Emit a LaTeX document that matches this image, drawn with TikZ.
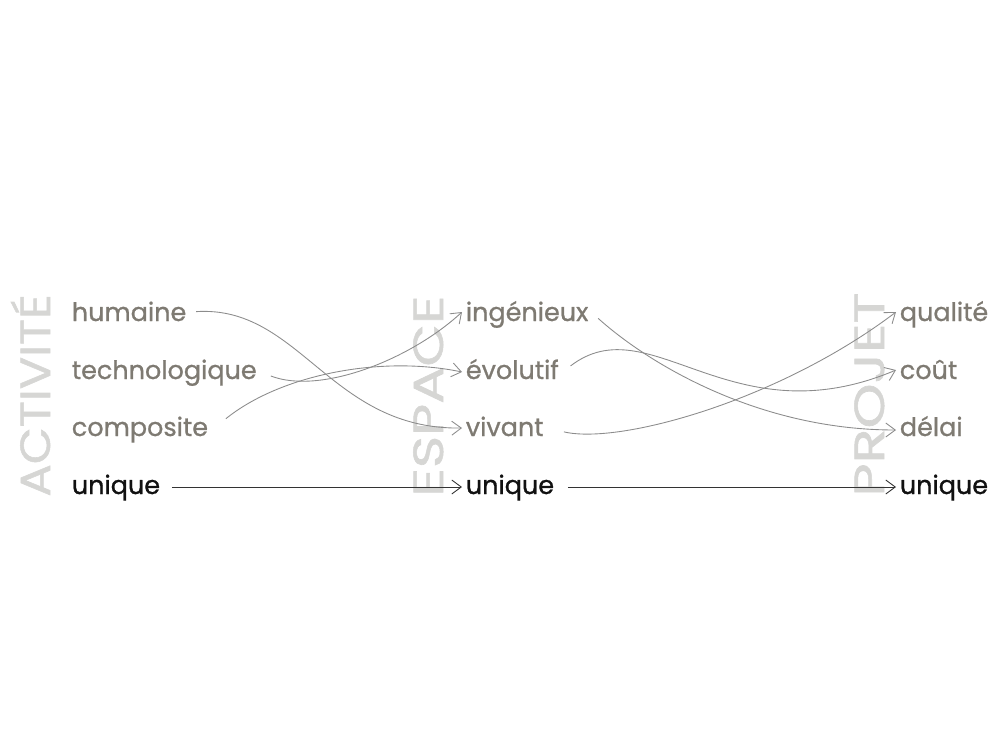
\documentclass[tikz,border=0pt]{standalone}
\usepackage{fontspec}
\setmainfont{Poppins}
\newfontfamily\wordfont{Poppins}[FakeBold=0.9]
\newfontfamily\titlefont{Poppins}[FakeBold=1.2]
\usepackage{tikz}
\usetikzlibrary{arrows.meta, positioning}
\definecolor{wordgrey}{HTML}{7E7A72}
\definecolor{titlegrey}{HTML}{D6D6D4}
\definecolor{linegrey}{HTML}{8C8C8C}
\definecolor{uniqueblack}{HTML}{111111}

\begin{document}
\begin{tikzpicture}[
    x=0.02cm, y=-0.02cm,
    word/.style={
        font=\wordfont\fontsize{14.5}{16}\selectfont,
        color=wordgrey,
        anchor=base west,
        inner sep=2pt
    },
    uword/.style={
        word,
        color=uniqueblack
    },
    title/.style={
        font=\titlefont\fontsize{24}{28}\selectfont,
        color=titlegrey,
        rotate=90,
        anchor=base west,
        inner sep=0pt
    },
    link/.style={
        draw=linegrey,
        line width=0.5pt,
        -{Straight Barb[length=1.9mm,width=2.8mm]}
    },
    ulink/.style={
        link,
        draw=black!80
    }
]
\useasboundingbox (0,0) rectangle (1000,750);

% Vertical titles
\node[title, xscale=1.14] (activite) at (50, 497) {ACTIVITÉ};
\node[title, xscale=1.31] (espace) at (443, 497) {ESPACE};
\node[title, xscale=1.36] (projet) at (884, 497) {PROJET};

% Activite column
\node[word] (humaine) at (68, 321) {humaine};
\node[word] (techno) at (68, 379) {technologique};
\node[word] (composite) at (68, 436) {composite};
\node[uword] (uniqueA) at (68, 494) {unique};

% Espace column
\node[word] (ingenieux) at (462, 321) {ingénieux};
\node[word] (evolutif) at (462, 379) {évolutif};
\node[word] (vivant) at (462, 436) {vivant};
\node[uword] (uniqueB) at (462, 494) {unique};

% Projet column
\node[word] (qualite) at (896, 321) {qualité};
\node[word] (cout) at (896, 379) {coût};
\node[word] (delai) at (896, 436) {délai};
\node[uword] (uniqueC) at (896, 494) {unique};

% Activite -> Espace
\draw[link, shorten <=1.2mm] (humaine.east |- 0,312) .. controls (300,305) and (330,430) .. (vivant.west |- 0,428);
\draw[link, shorten <=2.2mm] (techno.east |- 0,372) .. controls (320,395) and (410,360) .. (ingenieux.west |- 0,312);
\draw[link, shorten <=3.6mm] (composite.east |- 0,430) .. controls (280,375) and (380,355) .. (evolutif.west |- 0,372);
\draw[ulink, shorten <=1.6mm] (uniqueA.east |- 0,487) -- (uniqueB.west |- 0,487);

% Espace -> Projet
\draw[link, shorten <=1.6mm] (ingenieux.east |- 0,313) .. controls (650,365) and (760,430) .. (delai.west |- 0,430);
\draw[link, shorten <=2mm] (evolutif.east |- 0,372) .. controls (650,305) and (730,440) .. (cout.west |- 0,370);
\draw[link, shorten <=3.4mm] (vivant.east |- 0,428) .. controls (620,445) and (780,400) .. (qualite.west |- 0,312);
\draw[ulink, shorten <=2mm] (uniqueB.east |- 0,487) -- (uniqueC.west |- 0,487);

\end{tikzpicture}
\end{document}
